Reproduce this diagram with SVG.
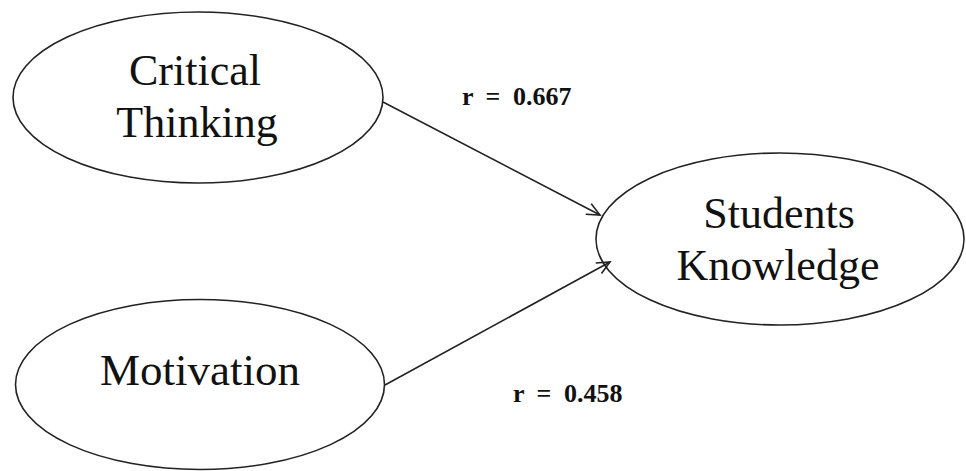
<svg xmlns="http://www.w3.org/2000/svg" width="966" height="471" viewBox="0 0 966 471">
<style>
.node{fill:#fff;stroke:#222;stroke-width:1.6}
.lbl{font-family:"Liberation Serif","Times New Roman",serif;font-size:44px;fill:#111;text-anchor:middle}
.r{font-family:"Liberation Serif","Times New Roman",serif;font-size:26px;font-weight:bold;fill:#111;word-spacing:6px}
.edge{stroke:#222;stroke-width:1.6;fill:none}
</style>
<defs>
<marker id="arr" markerWidth="16" markerHeight="16" refX="14" refY="8" orient="auto" markerUnits="userSpaceOnUse">
<path d="M1,2 L14,8 L1,14" fill="none" stroke="#222" stroke-width="1.6"/>
</marker>
</defs>
<rect width="966" height="471" fill="#fff"/>
<g id="critical-thinking">
<ellipse class="node" cx="198" cy="97.5" rx="185" ry="85.5"/>
<text class="lbl" x="195" y="85">Critical</text>
<text class="lbl" x="197" y="137">Thinking</text>
</g>
<g id="motivation">
<ellipse class="node" cx="200" cy="384.5" rx="184.5" ry="85"/>
<text class="lbl" x="200" y="385" style="font-size:45px">Motivation</text>
</g>
<g id="students-knowledge">
<ellipse class="node" cx="780" cy="239" rx="184" ry="86"/>
<text class="lbl" x="779" y="228">Students</text>
<text class="lbl" x="778" y="280">Knowledge</text>
</g>
<g id="connectors">
<line class="edge" x1="383" y1="102" x2="600" y2="215" marker-end="url(#arr)"/>
<line class="edge" x1="385" y1="385" x2="610" y2="262" marker-end="url(#arr)"/>
<text class="r" x="462" y="105">r = 0.667</text>
<text class="r" x="513" y="402">r = 0.458</text>
</g>
</svg>
